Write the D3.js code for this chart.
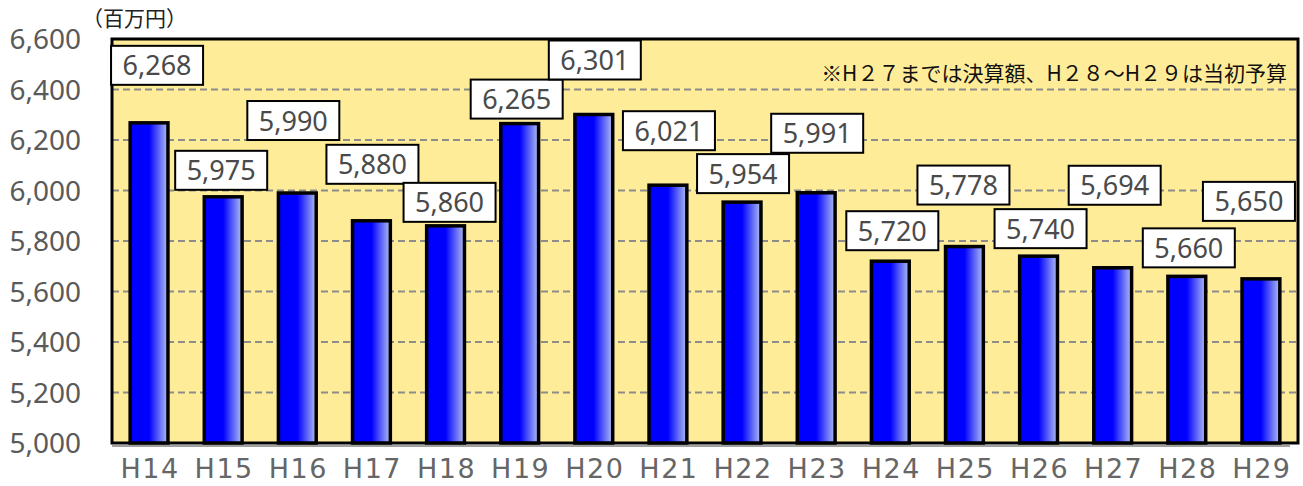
<!DOCTYPE html>
<html>
<head>
<meta charset="utf-8">
<script src="https://cdn.jsdelivr.net/npm/d3@7"></script>
<style>
  body { margin: 0; background: #fff; }
  svg text { font-family: "Noto Sans", "Noto Sans CJK JP", sans-serif; }
</style>
</head>
<body>
<div id="root"></div>
<script>
// data
var years = ["H14","H15","H16","H17","H18","H19","H20","H21","H22","H23","H24","H25","H26","H27","H28","H29"];
var amounts = [6268, 5975, 5990, 5880, 5860, 6265, 6301, 6021, 5954, 5991, 5720, 5778, 5740, 5694, 5660, 5650];
var yTicks = [5000, 5200, 5400, 5600, 5800, 6000, 6200, 6400, 6600];

// label placement (px above bar top, px sideways) - layout only
var labelGap = [38, 7, 53, 37, 4, 5, 35, 35, 9, 40, 11, 42, 8, 63, 9, 58];
var labelShift = [8, -2, -4, 1, 4, -3, 1, 1, 1, 1, 2, -1, 2, 2, 2, -12];

var W = 1303, H = 486;
var m = {left: 112, right: 5, top: 39, bottom: 43};

var svg = d3.select("#root").append("svg")
    .attr("width", W).attr("height", H);

var x = d3.scaleBand().domain(years)
    .range([m.left, W - m.right]).paddingInner(0.49).paddingOuter(0.245);
var y = d3.scaleLinear().domain([5000, 6600]).range([H - m.bottom, m.top]);

var defs = svg.append("defs");
var grad = defs.append("linearGradient").attr("id", "barGrad")
    .attr("x1", "0").attr("x2", "1").attr("y1", "0").attr("y2", "0");
grad.append("stop").attr("offset", "0%").attr("stop-color", "#0000ff");
grad.append("stop").attr("offset", "50%").attr("stop-color", "#0000ff");
grad.append("stop").attr("offset", "100%").attr("stop-color", "#b0bff0");

// plot background
svg.append("rect")
    .attr("x", m.left).attr("y", m.top)
    .attr("width", W - m.right - m.left).attr("height", H - m.bottom - m.top)
    .attr("fill", "#ffec99");

// gridlines
svg.append("g").selectAll("line")
    .data(yTicks.filter(function(d){ return d > 5000 && d < 6600; }))
    .enter().append("line")
    .attr("x1", m.left).attr("x2", W - m.right)
    .attr("y1", function(d){ return y(d); }).attr("y2", function(d){ return y(d); })
    .attr("stroke", "#8c8c8c").attr("stroke-width", 2)
    .attr("stroke-dasharray", "7,4");

// floor shadow under axis
svg.append("line")
    .attr("x1", m.left).attr("x2", W - m.right - 8)
    .attr("y1", y(5000) + 3).attr("y2", y(5000) + 3)
    .attr("stroke", "#a0a0a0").attr("stroke-width", 2);

// frame
svg.append("rect")
    .attr("x", m.left).attr("y", m.top)
    .attr("width", W - m.right - m.left).attr("height", H - m.bottom - m.top)
    .attr("fill", "none").attr("stroke", "#000").attr("stroke-width", 3);

// bars
svg.append("g").selectAll("rect")
    .data(amounts)
    .enter().append("rect")
    .attr("x", function(d, i){ return x(years[i]); })
    .attr("y", function(d){ return y(d); })
    .attr("width", x.bandwidth())
    .attr("height", function(d){ return y(5000) - y(d); })
    .attr("fill", "url(#barGrad)")
    .attr("stroke", "#000").attr("stroke-width", 3.5);

// value labels
var bw = 92, bh = 39;
var labels = svg.append("g").selectAll("g")
    .data(amounts)
    .enter().append("g")
    .attr("transform", function(d, i){
        var cx = x(years[i]) + x.bandwidth() / 2 + labelShift[i];
        var by = y(d) - labelGap[i];
        return "translate(" + (cx - bw / 2) + "," + (by - bh) + ")";
    });
labels.append("rect")
    .attr("width", bw).attr("height", bh)
    .attr("fill", "#fff").attr("stroke", "#000").attr("stroke-width", 2);
labels.append("text")
    .attr("x", bw / 2).attr("y", bh / 2 + 10)
    .attr("text-anchor", "middle")
    .attr("font-size", 27).attr("fill", "#4a4a4a")
    .text(function(d){ return d3.format(",")(d); });

// y axis labels
svg.append("g").selectAll("text")
    .data(yTicks)
    .enter().append("text")
    .attr("x", 81).attr("y", function(d){ return y(d) + 10; })
    .attr("text-anchor", "end")
    .attr("font-size", 28).attr("fill", "#5a5a5a")
    .text(function(d){ return d3.format(",")(d); });

// x axis labels
svg.append("g").selectAll("text")
    .data(years)
    .enter().append("text")
    .attr("x", function(d){ return x(d) + x.bandwidth() / 2 + 1; })
    .attr("y", 478)
    .attr("text-anchor", "middle")
    .attr("font-size", 27).attr("fill", "#666")
    .attr("letter-spacing", 1.5)
    .style("font-family", "'DejaVu Sans', sans-serif")
    .text(function(d){ return d; });

// unit
svg.append("text")
    .attr("x", 82).attr("y", 26)
    .attr("font-size", 21).attr("fill", "#222")
    .style("font-family", "'Noto Sans CJK JP', sans-serif")
    .text("（百万円）");

// note
svg.append("text")
    .attr("x", 1287).attr("y", 81)
    .attr("text-anchor", "end")
    .attr("font-size", 21).attr("fill", "#111")
    .style("font-family", "'Noto Sans CJK JP', sans-serif")
    .text("※H２７までは決算額、H２８～H２９は当初予算");
</script>
</body>
</html>
